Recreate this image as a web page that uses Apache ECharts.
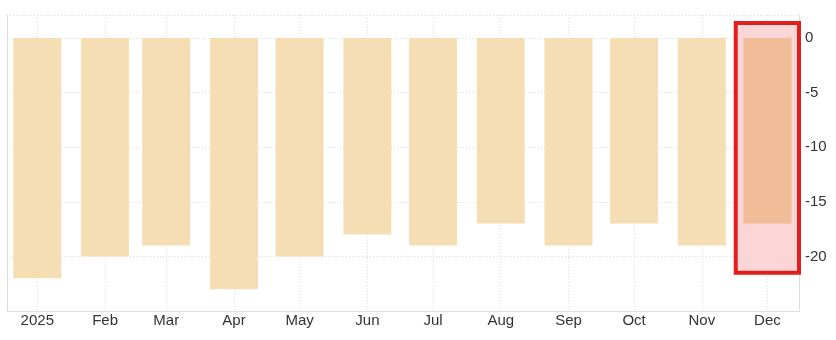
<!DOCTYPE html>
<html>
<head>
<meta charset="utf-8">
<script src="https://cdn.jsdelivr.net/npm/echarts@6/dist/echarts.min.js"></script>
<style>
html,body{margin:0;padding:0;background:#fff;}
#chart{width:836px;height:340px;}
</style>
</head>
<body>
<div id="chart"></div>
<script>
// Data
var months = ['2025-01-01','2025-02-01','2025-03-01','2025-04-01','2025-05-01','2025-06-01',
              '2025-07-01','2025-08-01','2025-09-01','2025-10-01','2025-11-01','2025-12-01'];
var values = [-22, -20, -19, -23, -20, -18, -19, -17, -19, -17, -19, -17];
var monthNames = ['Jan','Feb','Mar','Apr','May','Jun','Jul','Aug','Sep','Oct','Nov','Dec'];
var yTicks = [0, -5, -10, -15, -20];
var highlightIndex = 11;
var highlightRange = { x0: '2025-11-16 12:00', x1: '2025-12-16 06:00', y0: 1.37, y1: -21.5 };

function toTs(s) {
  var p = s.split(/[- :]/).map(Number);
  return new Date(p[0], p[1] - 1, p[2], p[3] || 0, p[4] || 0).getTime();
}

var barData = months.map(function (m, i) {
  var item = { value: [toTs(m), values[i]] };
  if (i === highlightIndex) item.itemStyle = { color: '#f1bc97' };
  return item;
});

var chart = echarts.init(document.getElementById('chart'), null, { renderer: 'canvas' });
var DAY = 86400000;
var textColor = '#333';
var gridColor = '#dcdcdc';

chart.setOption({
  animation: false,
  backgroundColor: '#fff',
  grid: { left: 7, right: 37, top: 15, bottom: 29, containLabel: false },
  xAxis: {
    type: 'time',
    // ECharts widens a time axis by half a bar on each side for bar series
    min: toTs('2024-12-29 03:00'),
    max: toTs('2025-12-04 11:00'),
    splitNumber: 12,
    minInterval: 28 * DAY,
    maxInterval: 31 * DAY,
    axisLine: { show: true, onZero: false, lineStyle: { color: '#dddddd', width: 1 } },
    axisTick: { show: false },
    splitLine: { show: true, lineStyle: { color: gridColor, type: [1, 2], width: 1 } },
    axisLabel: {
      color: textColor,
      fontSize: 15,
      fontFamily: 'Liberation Sans, Arial, sans-serif',
      margin: 2,
      showMinLabel: false,
      showMaxLabel: false,
      hideOverlap: false,
      formatter: function (v) {
        var d = new Date(v);
        if (d.getDate() !== 1 || d.getHours() !== 0) return '';
        return d.getMonth() === 0 ? String(d.getFullYear()) : monthNames[d.getMonth()];
      }
    }
  },
  yAxis: [{
    type: 'value',
    position: 'right',
    min: -25,
    max: 2.1,
    interval: 5,
    axisLine: { show: true, lineStyle: { color: '#dddddd', width: 1 } },
    axisTick: { show: false },
    splitLine: { show: true, lineStyle: { color: gridColor, type: [1, 2], width: 1 } },
    axisLabel: {
      color: textColor,
      fontSize: 15,
      fontFamily: 'Liberation Sans, Arial, sans-serif',
      margin: 6,
      formatter: function (v) {
        return yTicks.indexOf(Math.round(v * 1000) / 1000) >= 0 ? String(v) : '';
      }
    }
  }, {
    type: 'value',
    position: 'left',
    min: -25,
    max: 2.1,
    axisLine: { show: true, lineStyle: { color: '#dddddd', width: 1 } },
    axisTick: { show: false },
    axisLabel: { show: false },
    splitLine: { show: false }
  }],
  series: [{
    type: 'line',
    data: [],
    z: 1,
    clip: false,
    silent: true,
    markArea: {
      silent: true,
      itemStyle: { color: '#fbd6d6', borderColor: '#e41e1e', borderWidth: 4 },
      data: [[
        { coord: [toTs(highlightRange.x0), highlightRange.y0] },
        { coord: [toTs(highlightRange.x1), highlightRange.y1] }
      ]]
    }
  }, {
    type: 'bar',
    z: 3,
    barWidth: 48,
    itemStyle: { color: '#f5deb3' },
    data: barData
  }]
});
</script>
</body>
</html>
